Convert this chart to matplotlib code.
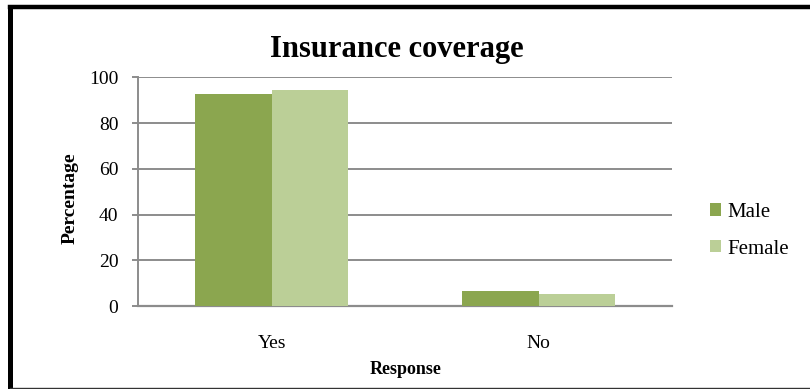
import matplotlib.pyplot as plt
import numpy as np
from matplotlib.lines import Line2D

plt.rcParams['font.family'] = ['Liberation Serif', 'DejaVu Serif']

# survey responses, percent
categories = ['Yes', 'No']
male = [92.8, 6.7]
female = [94.4, 5.3]
yticks = [0, 20, 40, 60, 80, 100]

male_color = '#8BA64F'
female_color = '#BBCF97'
grid_color = '#8C8C8C'

fig = plt.figure(figsize=(8.1, 3.89), dpi=100)
ax = fig.add_axes([0.1707, 0.2126, 0.6590, 0.5887])

x = np.arange(len(categories))
w = 0.286
ax.bar(x - w / 2, male, width=w, color=male_color, label='Male', zorder=3)
ax.bar(x + w / 2, female, width=w, color=female_color, label='Female', zorder=3)

ax.set_xlim(-0.5, 1.5)
ax.set_ylim(0, 100)
ax.set_yticks(yticks)
ax.set_xticks(x)
ax.set_xticklabels(categories, fontsize=14)
ax.tick_params(axis='x', length=0, pad=21)
ax.tick_params(axis='y', labelsize=14, length=4.3, width=1.4, color=grid_color, pad=10)
ax.yaxis.grid(True, color=grid_color, linewidth=1.4, zorder=0)

for side in ['top', 'right']:
    ax.spines[side].set_visible(False)
ax.spines['left'].set_color(grid_color)
ax.spines['left'].set_linewidth(1.4)
ax.spines['bottom'].set_color(grid_color)
ax.spines['bottom'].set_linewidth(1.6)

ax.set_xlabel('Response', fontsize=13, fontweight='bold', labelpad=6)
ax.set_ylabel('Percentage', fontsize=14, fontweight='bold')
ax.yaxis.set_label_coords(-0.112, 0.47)

fig.text(0.49, 0.872, 'Insurance coverage', ha='center', va='center',
         fontsize=22, fontweight='bold')

ax.legend(loc='center left', bbox_to_anchor=(1.036, 0.33), frameon=False,
          fontsize=15, handlelength=0.55, handleheight=0.55, handletextpad=0.3,
          labelspacing=0.85)

# outer frame: heavy top and left edges, thin bottom
fig.add_artist(Line2D([0.0123, 1.0], [0.9825, 0.9825], transform=fig.transFigure,
                      color='black', linewidth=3.2))
fig.add_artist(Line2D([0.0123, 0.0123], [0.003, 0.9825], transform=fig.transFigure,
                      color='black', linewidth=3.6))
fig.add_artist(Line2D([0.0123, 1.0], [0.003, 0.003], transform=fig.transFigure,
                      color='#333333', linewidth=1.0))

fig.savefig('out.png', dpi=100)
